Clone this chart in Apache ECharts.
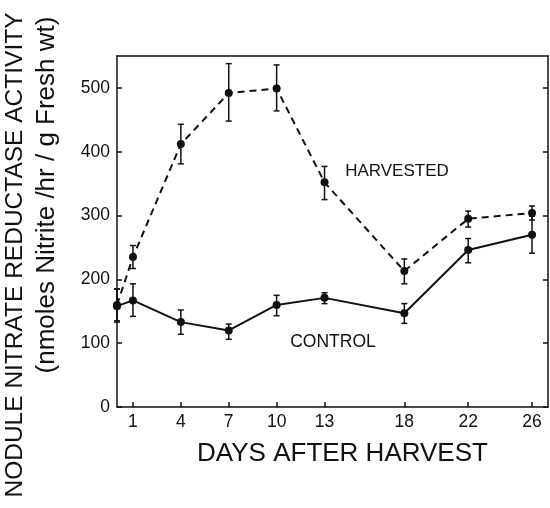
<!DOCTYPE html>
<html>
<head>
<meta charset="utf-8">
<script src="https://cdn.jsdelivr.net/npm/echarts@6/dist/echarts.min.js"></script>
<style>
  html, body { margin: 0; padding: 0; background: #fff; }
  #chart { width: 550px; height: 508px; }
</style>
</head>
<body>
<div id="chart"></div>
<script>
const days = [0, 1, 4, 7, 10, 13, 18, 22, 26]
const dayTicks = [1, 4, 7, 10, 13, 18, 22, 26]
const valueTicks = [0, 100, 200, 300, 400, 500]

const harvested = [160, 235, 412, 492, 499, 352, 213, 295, 304]
const harvestedLow = [135, 217, 381, 448, 464, 325, 193, 282, 293]
const harvestedHigh = [185, 253, 443, 538, 536, 377, 232, 307, 315]

const control = [158, 167, 133, 120, 160, 171, 147, 246, 270]
const controlLow = [133, 142, 114, 106, 143, 162, 131, 226, 241]
const controlHigh = [185, 193, 152, 130, 175, 179, 162, 264, 299]

const FONT = 'Liberation Sans'

function pairs(vals) {
  return days.map((d, i) => [d, vals[i]])
}

function errData(low, high) {
  return days.map((d, i) => [d, low[i], high[i]])
}

function renderErr(params, api) {
  const lo = api.coord([api.value(0), api.value(1)])
  const hi = api.coord([api.value(0), api.value(2)])
  const w = 3
  const style = { stroke: '#111', lineWidth: 1.5 }
  return {
    type: 'group',
    children: [
      { type: 'line', shape: { x1: lo[0], y1: lo[1], x2: hi[0], y2: hi[1] }, style },
      { type: 'line', shape: { x1: lo[0] - w, y1: lo[1], x2: lo[0] + w, y2: lo[1] }, style },
      { type: 'line', shape: { x1: hi[0] - w, y1: hi[1], x2: hi[0] + w, y2: hi[1] }, style }
    ]
  }
}

const chart = echarts.init(document.getElementById('chart'))

const axisLine = { show: true, onZero: false, lineStyle: { color: '#111', width: 1.5 } }

const option = {
  animation: false,
  backgroundColor: '#fff',
  textStyle: { fontFamily: FONT, color: '#111' },
  grid: { left: 117, top: 56, right: 2, bottom: 101 },
  xAxis: [
    {
      type: 'value',
      min: 0,
      max: 27,
      axisLine: axisLine,
      axisTick: { show: true, inside: true, length: 5, customValues: dayTicks, lineStyle: { color: '#111', width: 1.5 } },
      axisLabel: { customValues: dayTicks, color: '#111', fontSize: 17.5, fontFamily: FONT, margin: 6 },
      splitLine: { show: false },
      name: 'DAYS AFTER HARVEST',
      nameLocation: 'middle',
      nameGap: 34,
      nameTextStyle: { fontSize: 26, color: '#111', fontFamily: FONT, padding: [0, 0, 0, 20] }
    },
    {
      type: 'value',
      position: 'top',
      min: 0,
      max: 27,
      axisLine: axisLine,
      axisTick: { show: false },
      axisLabel: { show: false },
      splitLine: { show: false }
    }
  ],
  yAxis: [
    {
      type: 'value',
      min: 0,
      max: 550,
      axisLine: axisLine,
      axisTick: { show: true, inside: true, length: 5, customValues: valueTicks, lineStyle: { color: '#111', width: 1.5 } },
      axisLabel: { customValues: valueTicks, color: '#111', fontSize: 17.5, fontFamily: FONT, margin: 7 },
      splitLine: { show: false }
    },
    {
      type: 'value',
      position: 'right',
      min: 0,
      max: 550,
      axisLine: axisLine,
      axisTick: { show: true, inside: true, length: 5, customValues: valueTicks, lineStyle: { color: '#111', width: 1.5 } },
      axisLabel: { show: false },
      splitLine: { show: false }
    }
  ],
  series: [
    {
      name: 'HARVESTED',
      type: 'line',
      data: pairs(harvested),
      symbol: 'circle',
      symbolSize: 8,
      itemStyle: { color: '#111' },
      lineStyle: { color: '#111', width: 2, type: [7, 5] },
      z: 3
    },
    {
      name: 'CONTROL',
      type: 'line',
      data: pairs(control),
      symbol: 'circle',
      symbolSize: 8,
      itemStyle: { color: '#111' },
      lineStyle: { color: '#111', width: 2 },
      z: 3
    },
    {
      type: 'custom',
      renderItem: renderErr,
      data: errData(harvestedLow, harvestedHigh),
      encode: { x: 0, y: [1, 2] },
      z: 2
    },
    {
      type: 'custom',
      renderItem: renderErr,
      data: errData(controlLow, controlHigh),
      encode: { x: 0, y: [1, 2] },
      z: 2
    }
  ],
  graphic: [
    {
      type: 'text',
      x: 15,
      y: 255,
      rotation: Math.PI / 2,
      style: {
        text: 'NODULE NITRATE REDUCTASE ACTIVITY',
        font: '24.5px "Liberation Sans"',
        fill: '#111',
        align: 'center',
        verticalAlign: 'middle'
      }
    },
    {
      type: 'text',
      x: 47,
      y: 195,
      rotation: Math.PI / 2,
      style: {
        text: '(nmoles Nitrite /hr / g Fresh wt)',
        font: '26px "Liberation Sans"',
        fill: '#111',
        align: 'center',
        verticalAlign: 'middle'
      }
    },
    {
      type: 'text',
      x: 397,
      y: 171,
      style: {
        text: 'HARVESTED',
        font: '17px "Liberation Sans"',
        fill: '#111',
        align: 'center',
        verticalAlign: 'middle'
      }
    },
    {
      type: 'text',
      x: 333,
      y: 342,
      style: {
        text: 'CONTROL',
        font: '17.5px "Liberation Sans"',
        fill: '#111',
        align: 'center',
        verticalAlign: 'middle'
      }
    }
  ]
}

chart.setOption(option)
</script>
</body>
</html>
